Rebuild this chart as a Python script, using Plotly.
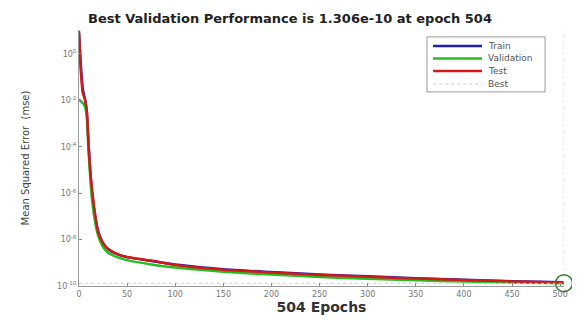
import plotly.graph_objects as go

# ---- data ----
epochs = [0, 2, 4, 6, 8, 10, 12, 14, 17, 20, 25, 30, 40, 50, 75, 100, 150, 200, 250, 300, 350, 400, 450, 504]

train_mse = [8.0, 0.3, 0.03, 0.012, 3.5e-3, 1.2e-4, 6e-6, 7e-7, 9e-8, 2.2e-8, 7e-9, 3.9e-9, 2.3e-9, 1.75e-9,
             1.2e-9, 8.5e-10, 5.3e-10, 4.0e-10, 3.1e-10, 2.6e-10, 2.15e-10, 1.85e-10, 1.6e-10, 1.45e-10]
val_mse = [1.1e-2, 9e-3, 7.5e-3, 5.5e-3, 2.2e-3, 6e-5, 3e-6, 3.5e-7, 5e-8, 1.4e-8, 4.8e-9, 2.8e-9, 1.7e-9, 1.3e-9,
           8.5e-10, 6.2e-10, 4.1e-10, 3.1e-10, 2.45e-10, 2.05e-10, 1.75e-10, 1.55e-10, 1.4e-10, 1.306e-10]
test_mse = [10.0, 0.16, 0.02, 0.012, 4e-3, 1.0e-4, 6.3e-6, 1.0e-6, 1.0e-7, 2.0e-8, 7e-9, 4e-9, 2.35e-9, 1.78e-9,
            1.25e-9, 8.0e-10, 5.0e-10, 3.8e-10, 3.0e-10, 2.5e-10, 2.1e-10, 1.8e-10, 1.58e-10, 1.42e-10]

best_epoch = 504
best_perf = 1.306e-10

series_names = ["Train", "Validation", "Test", "Best"]
series_colors = ["#1f1fb4", "#22c022", "#d01a1a", "#d8c8cc"]

y_tick_vals = [1e0, 1e-2, 1e-4, 1e-6, 1e-8, 1e-10]
y_tick_text = ["10<sup>0</sup>", "10<sup>-2</sup>", "10<sup>-4</sup>", "10<sup>-6</sup>", "10<sup>-8</sup>", "10<sup>-10</sup>"]
x_tick_vals = [0, 50, 100, 150, 200, 250, 300, 350, 400, 450, 500]

FONT = "DejaVu Sans, Liberation Sans, Arial, sans-serif"

fig = go.Figure()
for name, col, vals in zip(series_names[:3], series_colors[:3], [train_mse, val_mse, test_mse]):
    fig.add_trace(go.Scatter(x=epochs, y=vals, mode="lines", name=name, showlegend=False,
                             line=dict(color=col, width=2.5, shape="spline", smoothing=0.6)))
fig.add_trace(go.Scatter(x=[best_epoch, best_epoch, None, 0, best_epoch],
                         y=[best_perf, 12.0, None, best_perf, best_perf],
                         mode="lines", name="Best", showlegend=False,
                         line=dict(color="#c8d8c8", width=1, dash="dot")))
fig.add_trace(go.Scatter(x=[best_epoch], y=[best_perf], mode="markers", showlegend=False, cliponaxis=False,
                         marker=dict(symbol="circle-open", size=17, color="#3a7a3a", line=dict(width=1.5))))

# ---- manual legend (MATLAB-style compact box) ----
lx0, lx1, ly0, ly1 = 0.7175, 0.961, 0.758, 0.973
fig.add_shape(type="rect", xref="paper", yref="paper", x0=lx0, x1=lx1, y0=ly0, y1=ly1,
              line=dict(color="#999999", width=1), fillcolor="white", layer="above")
entry_y = [0.9375, 0.889, 0.840, 0.789]
for name, col, yy in zip(series_names, series_colors, entry_y):
    fig.add_shape(type="line", xref="paper", yref="paper", x0=0.730, x1=0.831, y0=yy, y1=yy,
                  line=dict(color=col, width=2.5 if name != "Best" else 1,
                            dash="solid" if name != "Best" else "dot"), layer="above")
    fig.add_annotation(x=0.839, y=yy, xref="paper", yref="paper", text=name, showarrow=False,
                       xanchor="left", yanchor="middle",
                       font=dict(family=FONT, size=9, color="#555555"))

# page body has an 8px margin, so the figure is 8px smaller and offset
fig.update_layout(
    width=572, height=316,
    margin=dict(l=71, r=16, t=22, b=38),
    paper_bgcolor="white", plot_bgcolor="white",
    font=dict(family=FONT, size=8, color="#666666"),
    title=dict(text="<b>Best Validation Performance is 1.306e-10 at epoch 504</b>",
               xref="container", x=0.493, xanchor="center", y=0.968, yanchor="middle",
               font=dict(family=FONT, size=13, color="#222222")),
    showlegend=False,
)
fig.update_xaxes(range=[0, 504], tickvals=x_tick_vals, ticks="inside", ticklen=3,
                 tickcolor="#888888", showgrid=False, zeroline=False, automargin=False,
                 showline=True, linecolor="#999999", linewidth=1,
                 title=dict(text="<b>504 Epochs</b>", font=dict(family=FONT, size=14, color="#333333"), standoff=3),
                 tickfont=dict(family=FONT, size=8, color="#777777"))
fig.update_yaxes(type="log", range=[-10, 1.03], tickvals=y_tick_vals, ticktext=y_tick_text,
                 ticks="inside", ticklen=3, tickcolor="#888888", showgrid=False, zeroline=False,
                 automargin=False, showline=True, linecolor="#999999", linewidth=1,
                 title=dict(text="Mean Squared Error  (mse)", font=dict(family=FONT, size=10, color="#444444"), standoff=25),
                 tickfont=dict(family=FONT, size=8, color="#777777"))

fig.write_html("out.html")
